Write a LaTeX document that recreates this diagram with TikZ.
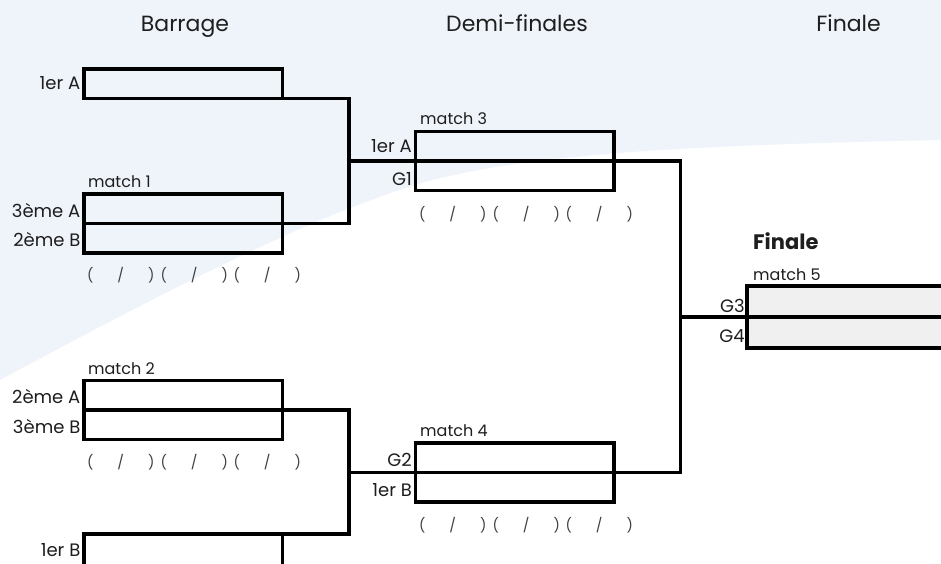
\documentclass[tikz,border=0pt]{standalone}
\usepackage{fontspec}
\setmainfont{Poppins}
\definecolor{bgblue}{HTML}{EFF3FA}
\definecolor{txt}{HTML}{1E1E1E}
\definecolor{finfill}{HTML}{F0F0F0}
\newcommand{\scoreline}{\makebox[0pt]{(}\hspace{30.5pt}\makebox[0pt]{/}\hspace{30.5pt}\makebox[0pt]{)}\hspace{12.5pt}%
\makebox[0pt]{(}\hspace{30.5pt}\makebox[0pt]{/}\hspace{30.5pt}\makebox[0pt]{)}\hspace{12pt}%
\makebox[0pt]{(}\hspace{30.5pt}\makebox[0pt]{/}\hspace{30.5pt}\makebox[0pt]{)}}
\begin{document}
\begin{tikzpicture}[x=1pt,y=-1pt,
  rowbox/.style={draw=black,line width=3.6pt,inner sep=0pt,outer sep=0pt,minimum width=198.5pt,minimum height=29.5pt,anchor=north west},
  finbox/.style={rowbox,fill=finfill,minimum width=240pt,minimum height=31pt},
  link/.style={draw=black,line width=3.6pt,line join=miter},
  lbl/.style={inner sep=0pt,anchor=base east,text=txt,font=\fontsize{18}{20}\selectfont},
  mlbl/.style={inner sep=0pt,anchor=base west,text=txt,font=\fontsize{16}{18}\selectfont},
  hdr/.style={inner sep=0pt,anchor=base,text=txt,font=\fontsize{22}{24}\selectfont},
  scr/.style={inner sep=0pt,anchor=base west,text=txt!85,font=\fontsize{14}{16}\selectfont}]
\useasboundingbox (0,0) rectangle (941,564);
\clip (0,0) rectangle (941,564);
\fill[white] (0,0) rectangle (941,564);
\fill[bgblue] (0,0) -- (941,0) -- (941,140) .. controls (700,145) and (520,153) .. (415,185)
  .. controls (300,220) and (130,310) .. (0,380) -- cycle;
% headers
\node[hdr] (h1) at (185,32) {Barrage};
\node[hdr] (h2) at (517,32) {Demi-finales};
\node[hdr] (h3) at (848.5,32) {Finale};
% barrage boxes
\node[rowbox] (r1A) at (84,69) {};
\node[rowbox] (m1a) at (84,194) {};
\node[rowbox] (m1b) at (84,223.5) {};
\node[rowbox] (m2a) at (84,380.5) {};
\node[rowbox] (m2b) at (84,410) {};
\node[rowbox,minimum height=60pt] (r1B) at (84,534) {};
% semi boxes
\node[rowbox] (m3a) at (415.5,131.5) {};
\node[rowbox] (m3b) at (415.5,161) {};
\node[rowbox] (m4a) at (415.5,443) {};
\node[rowbox] (m4b) at (415.5,472.5) {};
% final
\node[finbox] (m5a) at (747,286) {};
\node[finbox] (m5b) at (747,317) {};
% junctions
\coordinate (j1) at (349,161);
\coordinate (j2) at (349,472.5);
\coordinate (j3) at (680.5,317);
\draw[link] (r1A.south east) -| (j1) |- (m1a.south east);
\draw[link] (j1) -- (m3a.south west);
\draw[link] (m2a.south east) -| (j2) |- (r1B.north east);
\draw[link] (j2) -- (m4a.south west);
\draw[link] (m3a.south east) -| (j3) |- (m4a.south east);
\draw[link] (j3) -- (m5a.south west);
% labels
\node[lbl] (l1) at (80.5,90) {1er A};
\node[mlbl] (t1) at (88,187.5) {match 1};
\node[lbl] (l2) at (80.5,217) {3ème A};
\node[lbl] (l3) at (80.5,246.5) {2ème B};
\node[scr] (s1) at (90,280) {\scoreline};
\node[mlbl] (t2) at (88,374) {match 2};
\node[lbl] (l4) at (80.5,403.5) {2ème A};
\node[lbl] (l5) at (80.5,433) {3ème B};
\node[scr] (s2) at (90,467.5) {\scoreline};
\node[lbl] (l6) at (80.5,556) {1er B};
\node[mlbl] (t3) at (420,125) {match 3};
\node[lbl] (l7) at (412,153) {1er A};
\node[lbl] (l8) at (412,185) {G1};
\node[scr] (s3) at (422,219) {\scoreline};
\node[mlbl] (t4) at (420,436.5) {match 4};
\node[lbl] (l9) at (412,466.5) {G2};
\node[lbl] (l10) at (412,496) {1er B};
\node[scr] (s4) at (422,530.5) {\scoreline};
\node[inner sep=0pt,anchor=base west,text=txt,font=\fontsize{21}{23}\selectfont\bfseries] (fin) at (753,249) {Finale};
\node[mlbl] (t5) at (753,280) {match 5};
\node[lbl] (l11) at (745,312) {G3};
\node[lbl] (l12) at (745,342) {G4};
\end{tikzpicture}
\end{document}
